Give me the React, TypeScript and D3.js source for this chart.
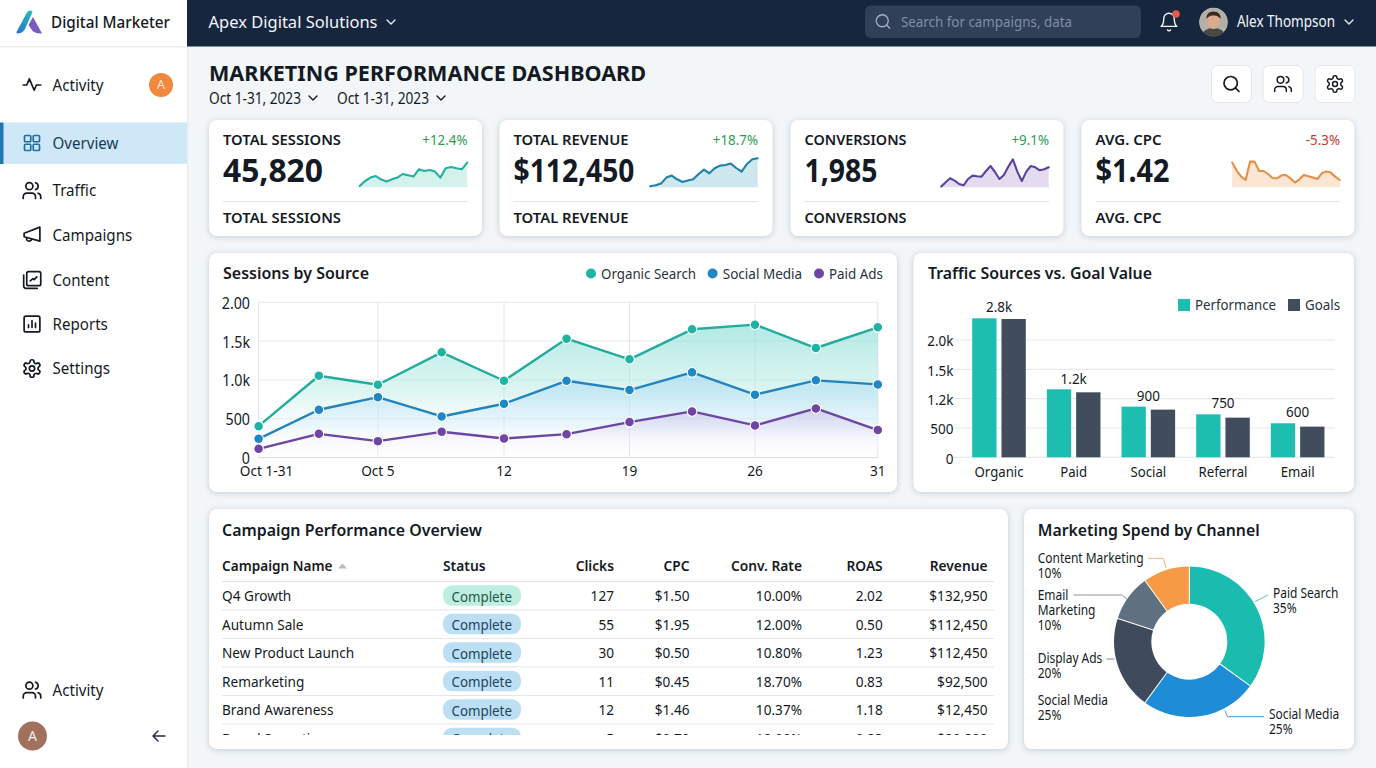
import React from 'react';
import * as d3 from 'd3';

// ---------- data ----------
const navTop = ['Activity', 'Overview', 'Traffic', 'Campaigns', 'Content', 'Reports', 'Settings'];
const kpiTitles = ['TOTAL SESSIONS', 'TOTAL REVENUE', 'CONVERSIONS', 'AVG. CPC'];
const kpiValues = ['45,820', '$112,450', '1,985', '$1.42'];
const kpiDeltas = ['+12.4%', '+18.7%', '+9.1%', '-5.3%'];
const sparkSessions = [1.3, 6.3, 9.7, 11.3, 7.7, 5.7, 8, 9.7, 13.3, 12, 10.7, 18, 16.3, 17.3, 15.7, 9.7, 19, 20.3, 19, 18, 24.7];
const sparkRevenue = [1, 2, 3.7, 9.7, 11.7, 8, 5.3, 6.7, 8, 13.3, 17.7, 14, 19, 21.7, 22.3, 23.7, 19.3, 15.7, 23.3, 28, 29];
const sparkConversions = [0.7, 5, 9, 6.7, 3.3, 2, 8.3, 11.7, 11, 10.7, 16.3, 21.3, 15.3, 8.3, 12.3, 20.7, 28, 15.7, 6.3, 15.7, 21.3, 20, 17, 18, 20];
const sparkCpc = [24.7, 16.7, 10.7, 7.3, 25.7, 25.7, 16.3, 16.3, 13.3, 9.3, 9, 12, 12.3, 9, 4.7, 8, 12.3, 11, 9.7, 8.3, 14, 15.7, 14.7, 10.7, 7.3];

const sessionDays = [1, 3.92, 6.78, 9.87, 12.89, 15.92, 18.97, 22, 25.05, 28, 31];
const organicSearch = [404, 1054, 938, 1355, 989, 1531, 1265, 1652, 1712, 1411, 1677];
const socialMedia = [241, 615, 778, 529, 692, 989, 869, 1097, 809, 994, 942];
const paidAds = [112, 305, 211, 331, 245, 301, 456, 594, 413, 632, 353];
const sessionYTicks = [0, 500, 1000, 1500, 2000];
const sessionYLabels = ['0', '500', '1.0k', '1.5k', '2.00'];
const sessionXTickIdx = [0, 2, 4, 6, 8, 10];
const sessionXLabels = ['Oct 1-31', 'Oct 5', '12', '19', '26', '31'];

const barCategories = ['Organic', 'Paid', 'Social', 'Referral', 'Email'];
const barPerformance = [2370, 1159, 864, 733, 580];
const barGoals = [2358, 1108, 813, 676, 523];
const barLabels = ['2.8k', '1.2k', '900', '750', '600'];
const barYTicks = [0, 500, 1000, 1500, 2000];
const barYLabels = ['0', '500', '1.2k', '1.5k', '2.0k'];

const tableHead = ['Clicks', 'CPC', 'Conv. Rate', 'ROAS', 'Revenue'];
const campaignNames = ['Q4 Growth', 'Autumn Sale', 'New Product Launch', 'Remarketing', 'Brand Awareness', 'Brand Sensation'];
const campaignClicks = ['127', '55', '30', '11', '12', '5'];
const campaignCpc = ['$1.50', '$1.95', '$0.50', '$0.45', '$1.46', '$0.79'];
const campaignConv = ['10.00%', '12.00%', '10.80%', '18.70%', '10.37%', '12.90%'];
const campaignRoas = ['2.02', '0.50', '1.23', '0.83', '1.18', '0.83'];
const campaignRevenue = ['$132,950', '$112,450', '$112,450', '$92,500', '$12,450', '$29,800'];

const spendChannels = ['Paid Search', 'Social Media', 'Display Ads', 'Email Marketing', 'Content Marketing'];
const spendShares = [35, 25, 20, 10, 10];

// ---------- styling / layout ----------
const FONT = '"Noto Sans", sans-serif';
const INK = '#141a24';
const spendColors = ['#1abcaf', '#1f8dd6', '#3f4b5c', '#5f7180', '#f79a45'];
const sparkStyles = [
  { data: sparkSessions, stroke: '#22b0a0', fill: '#d5f1ec' },
  { data: sparkRevenue, stroke: '#1f7fa6', fill: '#cde7ef' },
  { data: sparkConversions, stroke: '#5a42a0', fill: '#e3dcef' },
  { data: sparkCpc, stroke: '#e39049', fill: '#fbe6d3' },
];
const kpiX = [209, 499.5, 790.5, 1081.5];
const kpiTitleW = [118, 115, 102, 66];
const kpiValueW = [100, 121, 73, 74];
const navY = [85.8, 143.8, 191.3, 235.8, 280.8, 324.8, 369.3];
const rowY = [596.3, 624.8, 653.3, 681.8, 710.3, 738.8];
const colRight = [614, 689.5, 802, 882.7, 987.5];
const shadow = { filter: 'drop-shadow(0 1px 3px rgba(40,55,75,.22))' };

type TP = { x: number; y: number; s?: number; w?: number; c?: string; a?: 'start' | 'middle' | 'end'; tl?: number; k?: number; children: React.ReactNode };
const T = ({ x, y, s = 14, w = 400, c = INK, a = 'start', tl, k = 1, children }: TP) => (
  <text transform={`translate(${x},${y - 0.8}) scale(${k},1)`} fontSize={s} fontWeight={w} fill={c} textAnchor={a} dominantBaseline="central" fontFamily={FONT}
    {...(tl ? { textLength: tl, lengthAdjust: 'spacingAndGlyphs' } : {})}>{children}</text>
);

const Card = ({ x, y, w, h }: { x: number; y: number; w: number; h: number }) => (
  <rect x={x} y={y} width={w} height={h} rx={8} fill="#fff" style={shadow} />
);

const Chevron = ({ x, y, c = INK }: { x: number; y: number; c?: string }) => (
  <path d={`M${x - 4} ${y - 2}L${x} ${y + 2}L${x + 4} ${y - 2}`} fill="none" stroke={c} strokeWidth={1.4} strokeLinecap="round" strokeLinejoin="round" />
);

const GEAR = 'M12.22 2h-.44a2 2 0 0 0-2 2v.18a2 2 0 0 1-1 1.73l-.43.25a2 2 0 0 1-2 0l-.15-.08a2 2 0 0 0-2.73.73l-.22.38a2 2 0 0 0 .73 2.73l.15.1a2 2 0 0 1 1 1.72v.51a2 2 0 0 1-1 1.74l-.15.09a2 2 0 0 0-.73 2.73l.22.38a2 2 0 0 0 2.73.73l.15-.08a2 2 0 0 1 2 0l.43.25a2 2 0 0 1 1 1.73V20a2 2 0 0 0 2 2h.44a2 2 0 0 0 2-2v-.18a2 2 0 0 1 1-1.73l.43-.25a2 2 0 0 1 2 0l.15.08a2 2 0 0 0 2.73-.73l.22-.39a2 2 0 0 0-.73-2.73l-.15-.08a2 2 0 0 1-1-1.74v-.5a2 2 0 0 1 1-1.74l.15-.09a2 2 0 0 0 .73-2.73l-.22-.38a2 2 0 0 0-2.73-.73l-.15.08a2 2 0 0 1-2 0l-.43-.25a2 2 0 0 1-1-1.73V4a2 2 0 0 0-2-2z';
const iconBodies: Record<string, React.ReactNode> = {
  Activity: <path d="M22 12h-5l-2.5 6L9 5l-3 7H2" />,
  Overview: <><rect x="3" y="3" width="7.5" height="7.5" rx="1.2" /><rect x="13.5" y="3" width="7.5" height="7.5" rx="1.2" /><rect x="3" y="13.5" width="7.5" height="7.5" rx="1.2" /><rect x="13.5" y="13.5" width="7.5" height="7.5" rx="1.2" /></>,
  Traffic: <><path d="M16 21v-2a4 4 0 0 0-4-4H6a4 4 0 0 0-4 4v2" /><circle cx="9" cy="7" r="4" /><path d="M22 21v-2a4 4 0 0 0-3-3.87" /><path d="M16 3.13a4 4 0 0 1 0 7.75" /></>,
  Campaigns: <><path d="m3 10 18-7v16L3 14v-4z" /><path d="M11.6 16.8a3 3 0 1 1-5.8-1.6" /></>,
  Content: <><rect x="6" y="2.5" width="16" height="16" rx="2" /><path d="M2.5 6.5V19a2.5 2.5 0 0 0 2.5 2.5h13" /><path d="m10 13 3-2.5 1.5 1 3-3" /></>,
  Reports: <><rect x="3" y="3" width="18" height="18" rx="2" /><path d="M8 16v-3M12 16V8M16 16v-5" /></>,
  Settings: <><path d={GEAR} /><circle cx="12" cy="12" r="3" /></>,
  Search: <><circle cx="11" cy="11" r="8" /><path d="m21 21-4.3-4.3" /></>,
  Bell: <><path d="M6 8a6 6 0 0 1 12 0c0 7 3 9 3 9H3s3-2 3-9" /><path d="M10.3 21a1.94 1.94 0 0 0 3.4 0" /></>,
};
const Icon = ({ n, x, y, size = 22, c = INK, sw = 1.7 }: { n: string; x: number; y: number; size?: number; c?: string; sw?: number }) => (
  <g transform={`translate(${x - size / 2},${y - size / 2}) scale(${size / 24})`} fill="none" stroke={c} strokeWidth={sw * 24 / size} strokeLinecap="round" strokeLinejoin="round">
    {iconBodies[n]}
  </g>
);

// ---------- scales ----------
const sx = d3.scaleLinear().domain([1, 31]).range([258.6, 877.8]);
const sy = d3.scaleLinear().domain([0, 2000]).range([457.5, 302.3]);
const sessionSeries = [
  { key: 'Organic Search', values: organicSearch, color: '#1fb3a3', line: '#25ab9d', grad: 'gradOrganic' },
  { key: 'Social Media', values: socialMedia, color: '#1f87c4', line: '#2383bd', grad: 'gradSocial' },
  { key: 'Paid Ads', values: paidAds, color: '#6f45a4', line: '#6c46a3', grad: 'gradPaid' },
];
const lineGen = d3.line<number>().x((_, i) => sx(sessionDays[i])).y((d) => sy(d));
const areaGen = d3.area<number>().x((_, i) => sx(sessionDays[i])).y0(sy(0)).y1((d) => sy(d));

const bx = d3.scaleBand<string>().domain(barCategories).range([961.7, 1335]);
const bInner = d3.scaleBand<string>().domain(['p', 'g']).range([10.5, 64.1]).paddingInner(0.17).paddingOuter(0);
const by = d3.scaleLinear().domain([0, 2000]).range([457.3, 340]);

const pieGen = d3.pie<number>().sort(null).value((d) => d);
const arcGen = d3.arc<d3.PieArcDatum<number>>().innerRadius(38).outerRadius(75.3).padAngle(0.012);
const donutC = { x: 1189.3, y: 641.7 };

function Sparkline({ i }: { i: number }) {
  const { data, stroke, fill } = sparkStyles[i];
  const x0 = kpiX[i] + 150.7;
  const x = d3.scaleLinear().domain([0, data.length - 1]).range([x0, x0 + 107.5]);
  const y = d3.scaleLinear().domain([0, 25]).range([187.3, 162.3]);
  const ln = d3.line<number>().x((_, k) => x(k)).y((d) => y(d));
  const ar = d3.area<number>().x((_, k) => x(k)).y0(y(0)).y1((d) => y(d));
  return (
    <g>
      <path d={ar(data) as string} fill={fill} />
      <path d={ln(data) as string} fill="none" stroke={stroke} strokeWidth={2.1} strokeLinejoin="round" strokeLinecap="round" />
    </g>
  );
}

function Donut() {
  const arcs = pieGen(spendShares);
  const K = 0.88;
  const S = 13.6;
  return (
    <g>
      <g transform={`translate(${donutC.x},${donutC.y})`}>
        {arcs.map((a, i) => <path key={i} d={arcGen(a) as string} fill={spendColors[i]} />)}
      </g>
      <g fill="none" strokeWidth={1}>
        <path d="M1255 601.7L1268 595" stroke="#5cc4bb" />
        <path d="M1225 710.7L1227.5 716.7H1264" stroke="#4a9bcf" />
        <path d="M1106.7 659H1114.5" stroke="#7a8694" />
        <path d="M1073.5 595H1121.5L1127 599" stroke="#8a97a5" />
        <path d="M1148 558.3H1163.5L1166 568" stroke="#f3b27c" />
      </g>
      <T x={1037.7} y={558} s={S} k={K}>Content Marketing</T><T x={1037.7} y={573} s={S} k={K}>10%</T>
      <T x={1037.7} y={595} s={S} k={K}>Email</T><T x={1037.7} y={610} s={S} k={K}>Marketing</T><T x={1037.7} y={625} s={S} k={K}>10%</T>
      <T x={1037.7} y={658} s={S} k={K}>Display Ads</T><T x={1037.7} y={673} s={S} k={K}>20%</T>
      <T x={1037.7} y={700} s={S} k={K}>Social Media</T><T x={1037.7} y={715} s={S} k={K}>25%</T>
      <T x={1273} y={593} s={S} k={K}>{spendChannels[0]}</T><T x={1273} y={608} s={S} k={K}>{spendShares[0]}%</T>
      <T x={1269} y={714.5} s={S} k={K}>{spendChannels[1]}</T><T x={1269} y={729.5} s={S} k={K}>{spendShares[1]}%</T>
    </g>
  );
}

export default function App() {
  return (
    <svg width={1376} height={768} viewBox="0 0 1376 768" style={{ position: 'fixed', left: 0, top: 0, display: 'block' }}>
      <defs>
        <linearGradient id="gradOrganic" x1="0" y1="320" x2="0" y2="445" gradientUnits="userSpaceOnUse">
          <stop offset="0" stopColor="#74d8cf" stopOpacity={0.58} />
          <stop offset="0.6" stopColor="#b8ebe3" stopOpacity={0.45} />
          <stop offset="1" stopColor="#fff" stopOpacity={0} />
        </linearGradient>
        <linearGradient id="gradSocial" x1="0" y1="372" x2="0" y2="450" gradientUnits="userSpaceOnUse">
          <stop offset="0" stopColor="#8ccbf2" stopOpacity={0.42} />
          <stop offset="0.7" stopColor="#d5ecfb" stopOpacity={0.4} />
          <stop offset="1" stopColor="#fff" stopOpacity={0} />
        </linearGradient>
        <linearGradient id="gradPaid" x1="0" y1="410" x2="0" y2="458" gradientUnits="userSpaceOnUse">
          <stop offset="0" stopColor="#b9a0d8" stopOpacity={0.36} />
          <stop offset="1" stopColor="#fff" stopOpacity={0.1} />
        </linearGradient>
        <linearGradient id="logoA" x1="0" y1="1" x2="1" y2="0">
          <stop offset="0" stopColor="#2a6fd0" />
          <stop offset="1" stopColor="#25c2b5" />
        </linearGradient>
        <clipPath id="tableClip"><rect x={209} y={509} width={799} height={226} /></clipPath>
        <clipPath id="avatarClip"><circle cx={1213.5} cy={22} r={14.5} /></clipPath>
      </defs>

      <rect width={1376} height={768} fill="#f2f6f8" />

      {/* sidebar */}
      <rect x={0} y={0} width={187} height={768} fill="#fff" />
      <rect x={187} y={0} width={1.5} height={768} fill="#e9edf0" />
      <rect x={0} y={46} width={187} height={1.5} fill="#e9edf0" />
      <path d="M16.5 32L27 12.5Q30 9 32.5 12L25 29Q23 33 18 33.5Q16 33.5 16.5 32Z" fill="url(#logoA)" />
      <path d="M33 17L42 33.5Q37 34 33 31.5L28.5 25Z" fill="#7a5cc0" />
      <T x={51} y={22.5} s={16} w={500} tl={119}>Digital Marketer</T>

      <rect x={0} y={122.5} width={187} height={41.5} fill="#cfe8f8" />
      <rect x={0} y={122.5} width={3.5} height={41.5} fill="#1f78b4" />
      {navTop.map((n, i) => (
        <g key={i}>
          <Icon n={n} x={32} y={navY[i] - 0.8} size={n === 'Overview' ? 20 : 21} c={n === 'Overview' ? '#1f6fa8' : INK} />
          <T x={52.5} y={navY[i]} s={15.6} k={0.97} c={n === 'Overview' ? '#173a5a' : INK}>{n}</T>
        </g>
      ))}
      <circle cx={161} cy={85} r={12} fill="#f0883e" />
      <T x={161} y={85.5} s={12.5} c="#fde9d8" a="middle">A</T>
      <Icon n="Traffic" x={32} y={690} size={21} />
      <T x={52.5} y={690.8} s={15.6} k={0.97}>Activity</T>
      <circle cx={32.5} cy={736} r={14.5} fill="#a1705f" />
      <T x={32.5} y={736.5} s={14} c="#fbeee8" a="middle">A</T>
      <path d="M165 736H153M158 731L153 736L158 741" fill="none" stroke="#233044" strokeWidth={1.5} strokeLinecap="round" strokeLinejoin="round" />

      {/* header */}
      <rect x={187} y={0} width={1189} height={46.5} fill="#16263f" />
      <T x={208.5} y={22} s={16.5} c="#f3f6fa" tl={169}>Apex Digital Solutions</T>
      <Chevron x={391} y={22} c="#e6ebf2" />
      <rect x={865} y={5.5} width={276} height={32.5} rx={6} fill="#2f4058" />
      <Icon n="Search" x={883} y={21.5} size={18} c="#a6b2c2" sw={1.3} />
      <T x={901} y={21.5} s={14.5} c="#7f8fa5" tl={171}>Search for campaigns, data</T>
      <Icon n="Bell" x={1169} y={22} size={21} c="#f1f4f8" sw={1.4} />
      <circle cx={1176} cy={14} r={3.8} fill="#e8594a" />
      <g clipPath="url(#avatarClip)">
        <circle cx={1213.5} cy={22} r={14.5} fill="#b3b0aa" />
        <path d="M1200 38Q1203 28 1213.5 28Q1224 28 1227 38Z" fill="#4a4844" />
        <ellipse cx={1213.5} cy={21} rx={6.4} ry={8} fill="#d9ab8f" />
        <path d="M1206.5 19Q1206 11.5 1213.5 11.5Q1221 11.5 1220.5 19Q1218 15 1213.5 15.5Q1209 15 1206.5 19Z" fill="#3b2a20" />
      </g>
      <T x={1237} y={22} s={15.5} c="#f3f6fa" tl={98}>Alex Thompson</T>
      <Chevron x={1349} y={22} c="#e6ebf2" />

      {/* title */}
      <T x={209} y={73} s={21.5} w={700} tl={437}>MARKETING PERFORMANCE DASHBOARD</T>
      <T x={209} y={98.8} s={15.5} tl={92}>Oct 1-31, 2023</T>
      <Chevron x={313} y={98} />
      <T x={337} y={98.8} s={15.5} tl={92}>Oct 1-31, 2023</T>
      <Chevron x={441} y={98} />
      {[1211.5, 1263, 1315].map((x, i) => (
        <rect key={i} x={x} y={65.5} width={40} height={37} rx={6} fill="#fff" stroke="#e2e7eb" />
      ))}
      <Icon n="Search" x={1231.5} y={84} size={20} />
      <Icon n="Traffic" x={1283} y={84} size={20} sw={1.5} />
      <Icon n="Settings" x={1335} y={84} size={20} sw={1.5} />

      {/* KPI cards */}
      {kpiTitles.map((t, i) => {
        const x = kpiX[i];
        return (
          <g key={t}>
            <Card x={x} y={120} w={273} h={116} />
            <T x={x + 14} y={140} s={14.5} w={600} tl={kpiTitleW[i]}>{t}</T>
            <T x={x + 258.5} y={140} s={14.5} k={0.92} a="end" c={i === 3 ? '#c8372d' : '#2e9a55'}>{kpiDeltas[i]}</T>
            <T x={x + 14} y={170} s={33} w={700} tl={kpiValueW[i]}>{kpiValues[i]}</T>
            <Sparkline i={i} />
            <line x1={x + 14} x2={x + 258.5} y1={201.5} y2={201.5} stroke="#e3e6e9" strokeWidth={1.2} />
            <T x={x + 14} y={217.5} s={14.5} w={600} tl={kpiTitleW[i]}>{t}</T>
          </g>
        );
      })}

      {/* sessions chart */}
      <Card x={209} y={253} w={688} h={239} />
      <T x={223} y={273} s={16.5} w={600} tl={146}>Sessions by Source</T>
      {sessionSeries.map((s, i) => (
        <g key={s.key}>
          <circle cx={[591, 712.6, 819][i]} cy={273.5} r={5} fill={s.color} />
          <T x={[601, 722.7, 829][i]} y={273.5} s={15} c="#2a3240" tl={[95, 79.5, 54][i]}>{s.key}</T>
        </g>
      ))}
      {sessionYTicks.map((v, i) => (
        <g key={v}>
          <line x1={258.6} x2={877.8} y1={sy(v)} y2={sy(v)} stroke={v === 0 ? '#d4dae0' : '#e5e9ed'} />
          <T x={250} y={sy(v) + 1} s={15.5} k={0.92} a="end">{sessionYLabels[i]}</T>
        </g>
      ))}
      {sessionXTickIdx.map((k, i) => (
        <g key={k}>
          <line x1={sx(sessionDays[k])} x2={sx(sessionDays[k])} y1={302.3} y2={457.5} stroke="#e0e5ea" />
          <T x={sx(sessionDays[k]) + (i === 0 ? 8 : 0)} y={471.5} s={15} k={0.91} a="middle">{sessionXLabels[i]}</T>
        </g>
      ))}
      {sessionSeries.map((s) => <path key={s.key} d={areaGen(s.values) as string} fill={`url(#${s.grad})`} />)}
      {sessionSeries.map((s) => (
        <g key={s.key}>
          <path d={lineGen(s.values) as string} fill="none" stroke={s.line} strokeWidth={2.4} strokeLinejoin="round" />
          {s.values.map((v, i) => <circle key={i} cx={sx(sessionDays[i])} cy={sy(v)} r={4.8} fill={s.color} stroke="#fff" strokeWidth={1.1} />)}
        </g>
      ))}

      {/* bars chart */}
      <Card x={913.5} y={253} w={440.5} h={239} />
      <T x={928} y={273.5} s={16.5} w={600} tl={224}>Traffic Sources vs. Goal Value</T>
      <rect x={1178} y={299} width={12} height={12} fill="#1dbdb0" />
      <T x={1195} y={305} s={15} c="#2a3240" tl={81}>Performance</T>
      <rect x={1288} y={299} width={12} height={12} fill="#414c5c" />
      <T x={1305} y={305} s={15} c="#2a3240" tl={35}>Goals</T>
      {barYTicks.map((v, i) => (
        <g key={v}>
          <line x1={952} x2={1335} y1={by(v)} y2={by(v)} stroke="#e5e8ec" strokeWidth={1.2} />
          <T x={953.5} y={by(v) + 1.5} s={15} k={0.9} a="end">{barYLabels[i]}</T>
        </g>
      ))}
      {barCategories.map((c, i) => {
        const x0 = bx(c) as number;
        return (
          <g key={c}>
            <rect x={x0 + (bInner('p') as number)} y={by(barPerformance[i])} width={bInner.bandwidth()} height={by(0) - by(barPerformance[i])} fill="#1dbdb0" />
            <rect x={x0 + (bInner('g') as number)} y={by(barGoals[i])} width={bInner.bandwidth()} height={by(0) - by(barGoals[i])} fill="#414c5c" />
            <T x={x0 + bx.bandwidth() / 2} y={by(barPerformance[i]) - 10.8} s={15} k={0.9} a="middle">{barLabels[i]}</T>
            <T x={x0 + bx.bandwidth() / 2} y={471.7} s={15} k={0.88} a="middle">{c}</T>
          </g>
        );
      })}

      {/* table */}
      <Card x={209} y={509} w={799} h={240} />
      <T x={222} y={530} s={16.5} w={600} tl={260}>Campaign Performance Overview</T>
      <T x={222} y={566} s={14.5} w={600} tl={110.5}>Campaign Name</T>
      <path d="M338 568.5L342.5 563.5L347 568.5Z" fill="#b5bcc4" />
      <T x={443} y={566} s={14.5} w={600} tl={42.5}>Status</T>
      {tableHead.map((h, i) => <T key={h} x={colRight[i]} y={566} s={14.5} k={0.95} w={600} a="end">{h}</T>)}
      <line x1={222} x2={994} y1={581.5} y2={581.5} stroke="#dfe3e7" strokeWidth={1.2} />
      <g clipPath="url(#tableClip)">
        {campaignNames.map((n, i) => (
          <g key={n}>
            <T x={222} y={rowY[i]} s={14.5} k={0.94}>{n}</T>
            <rect x={443} y={rowY[i] - 11.1} width={78} height={20.6} rx={9} fill={i === 0 ? '#bdeedf' : '#bcdff3'} />
            <T x={481.7} y={rowY[i] + 0.3} s={14.5} k={0.92} a="middle" c={i === 0 ? '#1d5a4f' : '#22465f'}>Complete</T>
            <T x={colRight[0]} y={rowY[i]} s={14.5} k={0.94} a="end">{campaignClicks[i]}</T>
            <T x={colRight[1]} y={rowY[i]} s={14.5} k={0.94} a="end">{campaignCpc[i]}</T>
            <T x={colRight[2]} y={rowY[i]} s={14.5} k={0.94} a="end">{campaignConv[i]}</T>
            <T x={colRight[3]} y={rowY[i]} s={14.5} k={0.94} a="end">{campaignRoas[i]}</T>
            <T x={colRight[4]} y={rowY[i]} s={14.5} k={0.94} a="end">{campaignRevenue[i]}</T>
            {i < 5 && <line x1={222} x2={994} y1={rowY[i] + 13.7} y2={rowY[i] + 13.7} stroke="#e3e6ea" strokeWidth={1.2} />}
          </g>
        ))}
      </g>

      {/* donut */}
      <Card x={1024} y={509} w={330} h={240} />
      <T x={1037.7} y={530} s={16.5} w={600} tl={222}>Marketing Spend by Channel</T>
      <Donut />
    </svg>
  );
}
